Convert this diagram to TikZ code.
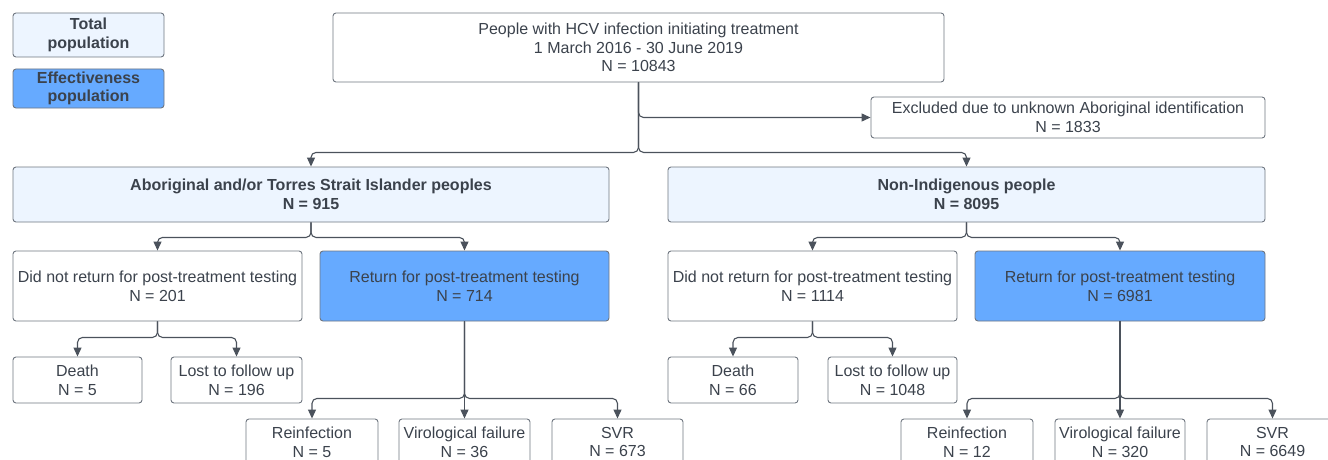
\documentclass[tikz,border=0pt]{standalone}
\usepackage{fontspec}
\setmainfont{Liberation Sans}
\usetikzlibrary{arrows.meta}
\definecolor{ink}{HTML}{3B424C}
\definecolor{edge}{HTML}{6F7680}
\definecolor{wire}{HTML}{4B525C}
\definecolor{lightfill}{HTML}{EDF5FF}
\definecolor{darkfill}{HTML}{66AAFF}

\begin{document}
\begin{tikzpicture}[
  x=1pt, y=-1pt,
  every node/.style={draw=edge, rectangle, rounded corners=3pt, align=center, text=ink,
    inner sep=0pt, line width=0.9pt, font=\fontsize{16}{18.7}\selectfont},
  sz/.style 2 args={minimum width=#1pt, minimum height=#2pt},
  total/.style={fill=lightfill},
  effect/.style={fill=darkfill},
  bold/.style={font=\fontsize{16}{18.7}\selectfont\bfseries},
  link/.style={draw=wire, line width=1.1pt, rounded corners=5pt, -{Triangle[width=8pt,length=9pt]}}
]
\useasboundingbox (0,0) rectangle (1328,460);
\clip (0,0) rectangle (1328,460);

\node[total, bold, sz={151}{44}] (tot) at (88.5,35) {Total\\population};
\node[effect, bold, sz={151}{39}] (eff) at (88.5,88.5) {Effectiveness\\population};

\node[sz={611}{69}] (start) at (638.5,47.5)
  {People with HCV infection initiating treatment\\1 March 2016 - 30 June 2019\\N = 10843};
\node[sz={394}{41}] (excl) at (1068,117.5)
  {Excluded due to unknown Aboriginal identification\\N = 1833};

\node[total, bold, sz={596}{55}] (abo) at (311,194.5) {Aboriginal and/or Torres Strait Islander peoples\\N = 915};
\node[total, bold, sz={597}{55}] (non) at (966.5,194.5) {Non-Indigenous people\\N = 8095};

\node[sz={289}{70}] (adnr) at (157.5,286) {Did not return for post-treatment testing\\N = 201};
\node[effect, sz={289}{70}] (aret) at (464.5,286) {Return for post-treatment testing\\N = 714};
\node[sz={289}{70}] (ndnr) at (812.5,286) {Did not return for post-treatment testing\\N = 1114};
\node[effect, sz={290}{70}] (nret) at (1120,286) {Return for post-treatment testing\\N = 6981};

\node[sz={129}{46}] (adth) at (77.5,380) {Death\\N = 5};
\node[sz={131}{46}] (alost) at (236.5,380) {Lost to follow up\\N = 196};
\node[sz={130}{46}] (ndth) at (733,380) {Death\\N = 66};
\node[sz={129}{46}] (nlost) at (892.5,380) {Lost to follow up\\N = 1048};

\node[sz={132}{46}] (arei) at (312,442) {Reinfection\\N = 5};
\node[sz={131}{46}] (avir) at (464.5,442) {Virological failure\\N = 36};
\node[sz={131}{46}] (asvr) at (617.5,442) {SVR\\N = 673};
\node[sz={132}{46}] (nrei) at (967,442) {Reinfection\\N = 12};
\node[sz={130}{46}] (nvir) at (1120,442) {Virological failure\\N = 320};
\node[sz={131}{46}] (nsvr) at (1272.5,442) {SVR\\N = 6649};

\draw[link] (start.south) |- (excl.west);
\draw[link] (start.south) -- ++(0,70) -| (abo.north);
\draw[link] (start.south) -- ++(0,70) -| (non.north);

\draw[link] (abo.south) -- ++(0,15) -| (adnr.north);
\draw[link] (abo.south) -- ++(0,15) -| (aret.north);
\draw[link] (non.south) -- ++(0,15) -| (ndnr.north);
\draw[link] (non.south) -- ++(0,15) -| (nret.north);

\draw[link] (adnr.south) -- ++(0,16) -| (adth.north);
\draw[link] (adnr.south) -- ++(0,16) -| (alost.north);
\draw[link] (ndnr.south) -- ++(0,16) -| (ndth.north);
\draw[link] (ndnr.south) -- ++(0,16) -| (nlost.north);

\draw[link] (aret.south) -- ++(0,77) -| (arei.north);
\draw[link] (aret.south) -- (avir.north);
\draw[link] (aret.south) -- ++(0,77) -| (asvr.north);
\draw[link] (nret.south) -- ++(0,77) -| (nrei.north);
\draw[link] (nret.south) -- (nvir.north);
\draw[link] (nret.south) -- ++(0,77) -| (nsvr.north);
\end{tikzpicture}
\end{document}
